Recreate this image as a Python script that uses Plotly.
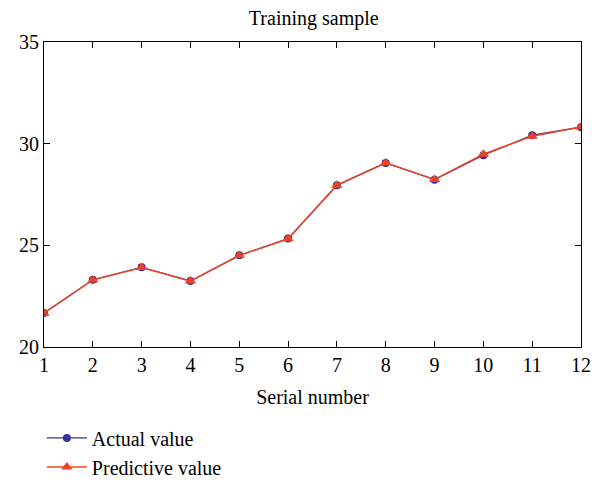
import plotly.graph_objects as go

# Serial numbers of the training samples
serial = [1, 2, 3, 4, 5, 6, 7, 8, 9, 10, 11, 12]

# Measured values
actual_value = [21.67, 23.31, 23.92, 23.25, 24.51, 25.33, 27.95, 29.05, 28.23, 29.43, 30.42, 30.81]

# Model predictions
predictive_value = [21.66, 23.30, 23.91, 23.24, 24.50, 25.32, 27.96, 29.06, 28.24, 29.48, 30.37, 30.82]

x_ticks = serial
y_ticks = [20, 25, 30, 35]

BLUE = "#35339a"
RED = "#ec4327"
FONT = "Liberation Serif"

fig = go.Figure()
fig.add_trace(go.Scatter(
    x=serial, y=actual_value, name="Actual value", legendgroup="a",
    mode="lines+markers",
    line=dict(color=BLUE, width=1.2),
    marker=dict(symbol="circle", size=8, color=BLUE),
))
fig.add_trace(go.Scatter(
    x=serial, y=predictive_value, name="Predictive value", legendgroup="p",
    mode="lines+markers",
    line=dict(color=RED, width=1.5),
    marker=dict(symbol="triangle-up", size=10, color=RED),
))

axis_common = dict(
    showline=True, linecolor="black", linewidth=1, mirror="ticks",
    ticks="inside", ticklen=6, tickcolor="black", tickwidth=1,
    showgrid=False, zeroline=False, automargin=False,
    tickfont=dict(family=FONT, size=20, color="black"),
)

fig.update_xaxes(
    range=[1, 12], tickvals=x_ticks,
    title=dict(text="Serial number", font=dict(family=FONT, size=20, color="black"), standoff=14),
    **axis_common,
)
fig.update_yaxes(
    range=[20, 35], tickvals=y_ticks,
    **axis_common,
)

fig.update_layout(
    width=592, height=481,
    margin=dict(l=44, r=11, t=42, b=134),
    paper_bgcolor="white", plot_bgcolor="white",
    title=dict(text="Training sample", x=0.53, xanchor="center",
               y=0.962, yanchor="middle", yref="container",
               font=dict(family=FONT, size=20, color="black")),
    showlegend=True,
    legend=dict(
        x=-0.004, xanchor="left", xref="paper",
        y=0.13, yanchor="top", yref="container",
        font=dict(family=FONT, size=20, color="black"),
        bgcolor="rgba(0,0,0,0)", tracegroupgap=0, itemwidth=40,
    ),
)

fig.write_html("out.html")
